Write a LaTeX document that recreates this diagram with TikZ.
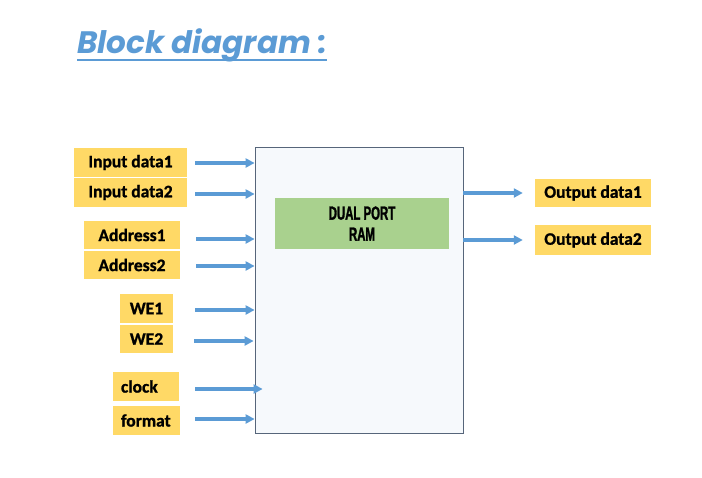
\documentclass[tikz,border=0pt]{standalone}
\usepackage{fontspec}
\setmainfont{Carlito}[BoldFont={Carlito Bold},BoldFeatures={FakeBold=1.2}]
\newfontfamily\titlefont{Poppins}
\newfontfamily\ramfont[FakeStretch=0.6,FakeBold=1.5]{Liberation Sans Bold}
\usetikzlibrary{arrows.meta}
\definecolor{sigyellow}{HTML}{FFD966}
\definecolor{ramgreen}{HTML}{A9D18E}
\definecolor{boxfill}{HTML}{F6F9FC}
\definecolor{boxline}{HTML}{56657A}
\definecolor{arrowblue}{HTML}{5B9BD5}
\tikzset{
  sig/.style={fill=sigyellow, draw=none, inner sep=0pt, font=\fontsize{17.5}{19}\selectfont\bfseries},
  sigleft/.style={sig, align=left, inner xsep=8pt, text width=#1},
  arr/.style={draw=arrowblue, line width=3.2pt, -{Triangle[length=9pt,width=9pt]}},
}
\begin{document}
\begin{tikzpicture}[x=1pt,y=-1pt]
\useasboundingbox (0,0) rectangle (702,477);
% title
\node[anchor=base west, inner sep=0pt, text=arrowblue, font=\titlefont\fontsize{31}{34}\selectfont\bfseries\itshape] (title) at (77,53) {Block diagram :};
\coordinate (ulA) at (77,59.5);
\coordinate (ulB) at (327,59.5);
\draw[arrowblue, line width=2pt] (ulA) -- (ulB);
% main block
\node[draw=boxline, fill=boxfill, line width=0.8pt, minimum width=208pt, minimum height=286pt, inner sep=0pt] (main) at (359,290) {};
\node[fill=ramgreen, minimum width=174pt, minimum height=51pt, align=center, inner sep=0pt, font=\ramfont\fontsize{19}{21}\selectfont] (ram) at (362,223.5) {DUAL PORT\\RAM};
% inputs
\node[sig, minimum width=113pt, minimum height=29pt] (in1) at (130.5,162.5) {Input data1};
\node[sig, minimum width=113pt, minimum height=29pt] (in2) at (130.5,192.5) {Input data2};
\node[sig, minimum width=96pt, minimum height=28pt] (ad1) at (132,235) {Address1};
\node[sig, minimum width=96pt, minimum height=28pt] (ad2) at (132,265) {Address2};
\node[sig, minimum width=53pt, minimum height=29pt] (we1) at (146.5,308.5) {WE1};
\node[sig, minimum width=53pt, minimum height=28pt] (we2) at (146.5,339) {WE2};
\node[sigleft=50pt, minimum height=29pt] (clk) at (146,386.5) {clock};
\node[sigleft=51pt, minimum height=29pt] (fmt) at (146.5,420.5) {format};
% outputs
\node[sig, minimum width=116pt, minimum height=28pt] (out1) at (593,193) {Output data1};
\node[sig, minimum width=116pt, minimum height=30pt] (out2) at (593,240) {Output data2};
% arrows
\draw[arr] ([xshift=8pt,yshift=-0.5pt]in1.east) -- ([yshift=-0.5pt]in1.east -| main.west);
\draw[arr] ([xshift=8pt,yshift=-1.5pt]in2.east) -- ([yshift=-1.5pt]in2.east -| main.west);
\draw[arr] ([xshift=16pt,yshift=-4pt]ad1.east) -- ([yshift=-4pt]ad1.east -| main.west);
\draw[arr] ([xshift=16pt,yshift=-1pt]ad2.east) -- ([yshift=-1pt]ad2.east -| main.west);
\draw[arr] ([xshift=22pt,yshift=-1.5pt]we1.east) -- ([yshift=-1.5pt]we1.east -| main.west);
\draw[arr] ([xshift=21pt,yshift=-2pt]we2.east) -- ([xshift=-1pt,yshift=-2pt]we2.east -| main.west);
\draw[arr] ([xshift=16pt,yshift=-2.5pt]clk.east) -- ([xshift=8pt,yshift=-2.5pt]clk.east -| main.west);
\draw[arr] ([xshift=15pt,yshift=1.5pt]fmt.east) -- ([yshift=1.5pt]fmt.east -| main.west);
\draw[arr] (out1.west -| main.east) -- ([xshift=-12pt]out1.west);
\draw[arr] (out2.west -| main.east) -- ([xshift=-12pt]out2.west);
\end{tikzpicture}
\end{document}
